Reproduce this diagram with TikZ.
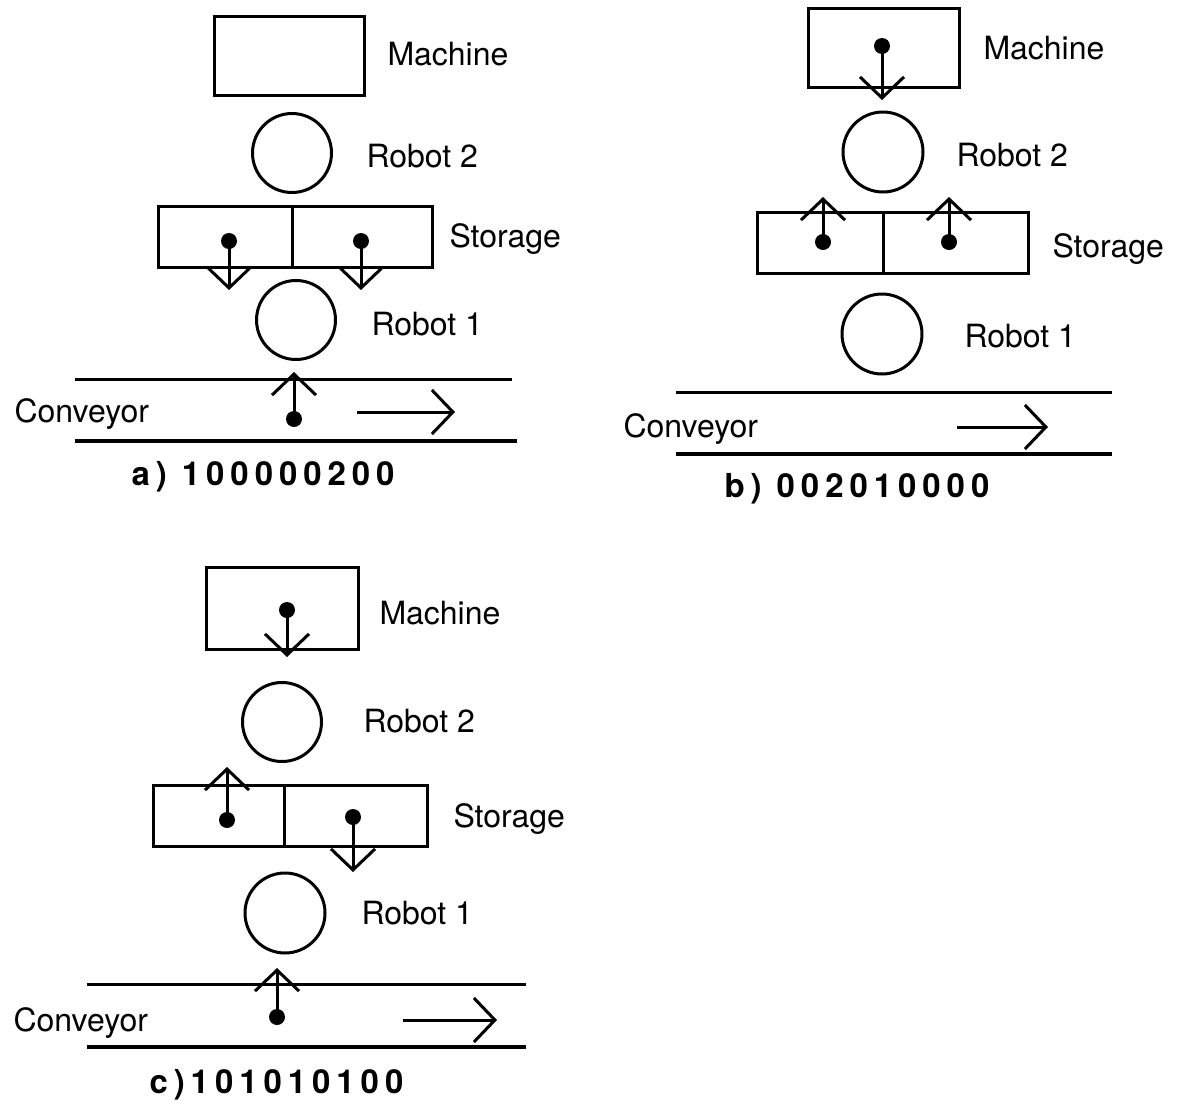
\documentclass[tikz,border=0pt]{standalone}
\usepackage{fontspec}
\setmainfont{TeX Gyre Heros}
\newfontfamily\codefont{TeX Gyre Heros}[LetterSpace=18]
\usepackage{tikz}
\usetikzlibrary{arrows.meta}

\begin{document}
\begin{tikzpicture}[x=1pt,y=-1pt,line width=3pt,
  >={Straight Barb[length=21pt,width=44pt]},
  box/.style={draw,rectangle,inner sep=0pt,minimum height=61pt},
  robot/.style={draw,circle,inner sep=0pt,minimum size=79pt},
  part/.style={fill,circle,inner sep=0pt,minimum size=16pt},
  tag/.style={anchor=base west,inner sep=0pt,font=\fontsize{32}{38}\selectfont},
  codetag/.style={anchor=base west,inner sep=0pt,font=\codefont\bfseries\fontsize{33}{39}\selectfont}]
  \useasboundingbox (0,0) rectangle (1187,1101);

  % a) 100000200
  \node[box,minimum width=150pt,minimum height=79pt] (machA) at (289,55.5) {};
  \node[robot] (robBA) at (292,153) {};
  \node[box,minimum width=134pt] (storA1) at (225,236.5) {};
  \node[box,minimum width=140pt] (storA2) at (362,236.5) {};
  \node[robot] (robAA) at (296,320) {};
  \coordinate (convA1) at (75,379);  \coordinate (convA2) at (512,379);
  \coordinate (convA3) at (75,441);  \coordinate (convA4) at (517,441);
  \draw (convA1) -- (convA2);
  \draw[line width=3.5pt] (convA3) -- (convA4);
  \node[part] (pA1) at (229,241) {};
  \node[part] (pA2) at (361,241) {};
  \node[part] (pA3) at (294,419) {};
  \coordinate (tA1) at (229,290); \coordinate (tA2) at (361,290);
  \coordinate (tA3) at (294,372);
  \draw[->] (pA1.center) -- (tA1);
  \draw[->] (pA2.center) -- (tA2);
  \draw[->] (pA3.center) -- (tA3);
  \coordinate (flowA1) at (357,412); \coordinate (flowA2) at (455,412);
  \draw[->] (flowA1) -- (flowA2);
  \node[tag] (lmachA) at (386,65) {Machine};
  \node[tag] (lrobBA) at (365,167) {Robot 2};
  \node[tag] (lstorA) at (448,247) {Storage};
  \node[tag] (lrobAA) at (370,335) {Robot 1};
  \node[tag] (lconvA) at (13,422) {Conveyor};
  \node[codetag] (capA) at (130,485) {a) 100000200};

  % b) 002010000
  \node[box,minimum width=151pt,minimum height=79pt] (machB) at (883.5,47.5) {};
  \node[robot,minimum size=80pt] (robBB) at (883,152) {};
  \node[box,minimum width=126pt] (storB1) at (820,242.5) {};
  \node[box,minimum width=145pt] (storB2) at (955.5,242.5) {};
  \node[robot,minimum size=80pt] (robAB) at (882,334) {};
  \coordinate (convB1) at (676,392);  \coordinate (convB2) at (1112,392);
  \coordinate (convB3) at (676,454);  \coordinate (convB4) at (1112,454);
  \draw (convB1) -- (convB2);
  \draw[line width=3.5pt] (convB3) -- (convB4);
  \node[part] (pB1) at (882,46) {};
  \node[part] (pB2) at (823,242) {};
  \node[part] (pB3) at (949,242) {};
  \coordinate (tB1) at (882,100); \coordinate (tB2) at (823,197);
  \coordinate (tB3) at (949,197);
  \draw[->] (pB1.center) -- (tB1);
  \draw[->] (pB2.center) -- (tB2);
  \draw[->] (pB3.center) -- (tB3);
  \coordinate (flowB1) at (957,427); \coordinate (flowB2) at (1048,427);
  \draw[->] (flowB1) -- (flowB2);
  \node[tag] (lmachB) at (982,59) {Machine};
  \node[tag] (lrobBB) at (955,166) {Robot 2};
  \node[tag] (lstorB) at (1051,257) {Storage};
  \node[tag] (lrobAB) at (963,347) {Robot 1};
  \node[tag] (lconvB) at (622,437) {Conveyor};
  \node[codetag] (capB) at (723,497) {b) 002010000};

  % c) 101010100
  \node[box,minimum width=152pt,minimum height=82pt] (machC) at (282,608) {};
  \node[robot] (robBC) at (282,722) {};
  \node[box,minimum width=131pt] (storC1) at (218.5,815.5) {};
  \node[box,minimum width=143pt] (storC2) at (355.5,815.5) {};
  \node[robot,minimum size=80pt] (robAC) at (285,913) {};
  \coordinate (convC1) at (87,984);   \coordinate (convC2) at (526,984);
  \coordinate (convC3) at (87,1047);  \coordinate (convC4) at (526,1047);
  \draw (convC1) -- (convC2);
  \draw[line width=3.5pt] (convC3) -- (convC4);
  \node[part] (pC1) at (287,610) {};
  \node[part] (pC2) at (227,820) {};
  \node[part] (pC3) at (353,817) {};
  \node[part] (pC4) at (277,1017) {};
  \coordinate (tC1) at (287,657); \coordinate (tC2) at (227,767);
  \coordinate (tC3) at (353,872); \coordinate (tC4) at (277,968);
  \draw[->] (pC1.center) -- (tC1);
  \draw[->] (pC2.center) -- (tC2);
  \draw[->] (pC3.center) -- (tC3);
  \draw[->] (pC4.center) -- (tC4);
  \coordinate (flowC1) at (403,1020); \coordinate (flowC2) at (497,1020);
  \draw[->] (flowC1) -- (flowC2);
  \node[tag] (lmachC) at (378,624) {Machine};
  \node[tag] (lrobBC) at (362,732) {Robot 2};
  \node[tag] (lstorC) at (452,827) {Storage};
  \node[tag] (lrobAC) at (360,924) {Robot 1};
  \node[tag] (lconvC) at (12,1031) {Conveyor};
  \node[codetag] (capC) at (148,1093) {c)101010100};
\end{tikzpicture}
\end{document}
